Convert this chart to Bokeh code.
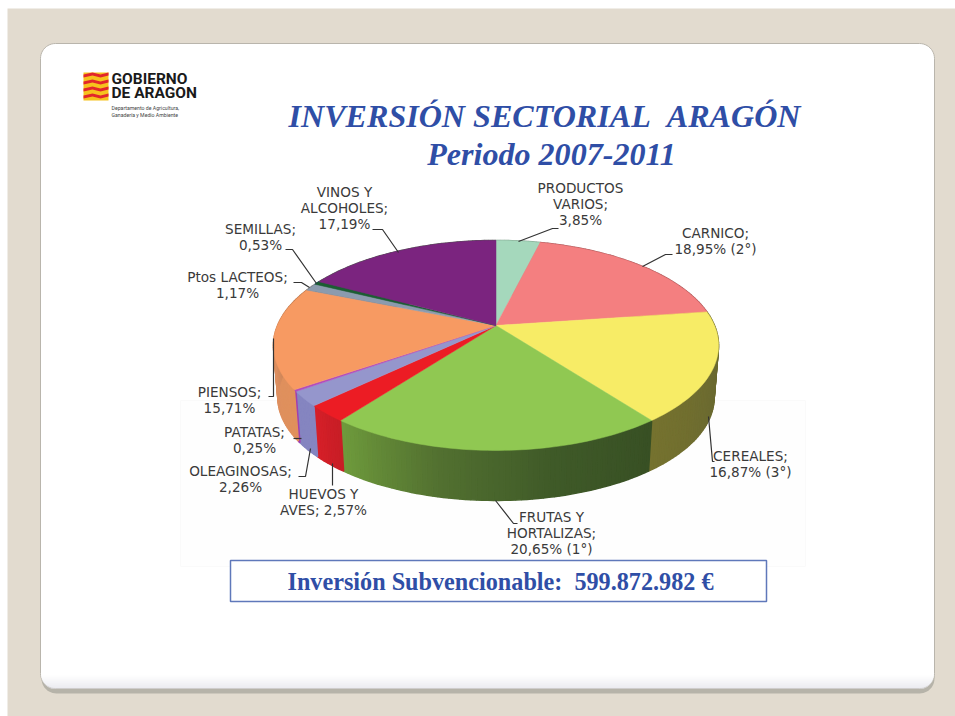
import math
from bokeh.plotting import figure
from bokeh.embed import file_html
from bokeh.resources import INLINE
from bokeh.core.properties import value

# ---------- data ----------
sectors = ["PRODUCTOS VARIOS", "CARNICO", "CEREALES", "FRUTAS Y HORTALIZAS", "HUEVOS Y AVES",
           "OLEAGINOSAS", "PATATAS", "PIENSOS", "Ptos LACTEOS", "SEMILLAS", "VINOS Y ALCOHOLES"]
shares = [3.85, 18.95, 16.87, 20.65, 2.57, 2.26, 0.25, 15.71, 1.17, 0.53, 17.19]
label_lines = [["PRODUCTOS", "VARIOS;", "3,85%"], ["CARNICO;", "18,95% (2°)"], ["CEREALES;", "16,87% (3°)"],
               ["FRUTAS Y", "HORTALIZAS;", "20,65% (1°)"], ["HUEVOS Y", "AVES; 2,57%"], ["OLEAGINOSAS;", "2,26%"],
               ["PATATAS;", "0,25%"], ["PIENSOS;", "15,71%"], ["Ptos LACTEOS;", "1,17%"], ["SEMILLAS;", "0,53%"],
               ["VINOS Y", "ALCOHOLES;", "17,19%"]]
title_1 = "INVERSIÓN SECTORIAL\u00a0\u00a0ARAGÓN"
title_2 = "Periodo 2007-2011"
box_text = "Inversión Subvencionable:\u00a0\u00a0599.872.982 €"

# ---------- styles ----------
top_colors = ["#A5D8BC", "#F47F80", "#F7EC66", "#90C852", "#EC1C24", "#9596CC", "#B14CBE", "#F79A62", "#8B9BAE", "#1B5E32", "#7B247F"]
wall_stops = [["#7F9F8A"], ["#A85858"], ["#6B672E", "#6B6A30", "#75722F"], ["#385024", "#3F5A28", "#527030", "#6E9A3C"],
              ["#C81E26", "#D51F28"], ["#8585C0"], ["#A040B0"], ["#E0905C", "#DD8F60", "#B0724A"], ["#777777"], ["#114455"], ["#555555"]]
BLUE = "#2F4EA6"
BEIGE = "#E2DBCF"

# label layout: centre x, first line y
label_pos = [(580, 187), (715, 232), (750, 455), (551, 516), (323, 493), (240, 470), (254, 431), (229, 391), (237, 276), (260, 228), (344, 191)]
leaders = [[(558, 228), (552, 228), (518, 241)], [(672, 254), (665, 254), (642, 266)], [(714, 461), (712, 461), (708, 416)],
           [(517, 523), (513, 523), (495, 500)], [(332, 485), (332, 463)], [(298, 476), (305, 476), (310, 448)],
           [(293, 438), (301, 438)], [(268, 396), (273, 396), (273, 338)], [(293, 282), (301, 282), (309, 287)],
           [(285, 249), (292, 249), (316, 283)], [(372, 229), (382, 229), (398, 252)]]

# pie projection (perspective-tilted disc)
AX, AY, RA, RB, K = 495.5, 325, 218.5, 101.2, 0.19
DROP, SHRINK = 377.5, 0.98

def top_pt(th):
    d = 1 + K * math.cos(th)
    return AX + RA * math.sin(th) / d, AY - RB * math.cos(th) / d

def bot_pt(th):
    x, y = top_pt(th)
    return AX + SHRINK * (x - AX), DROP + SHRINK * (y - AY)

def hex2rgb(h):
    h = h.lstrip("#")
    return [int(h[i:i + 2], 16) for i in (0, 2, 4)]

def mix(stops, f):
    if len(stops) == 1:
        return stops[0]
    pos = f * (len(stops) - 1)
    i = min(int(pos), len(stops) - 2)
    t = pos - i
    a, b = hex2rgb(stops[i]), hex2rgb(stops[i + 1])
    return "#%02x%02x%02x" % tuple(round(a[j] + (b[j] - a[j]) * t) for j in range(3))

def rrect(x0, y0, x1, y1, r):
    xs, ys = [], []
    for cx, cy, a0 in [(x1 - r, y0 + r, -90), (x1 - r, y1 - r, 0), (x0 + r, y1 - r, 90), (x0 + r, y0 + r, 180)]:
        for k in range(13):
            a = math.radians(a0 + k * 7.5)
            xs.append(cx + r * math.cos(a))
            ys.append(cy + r * math.sin(a))
    return xs, ys

W, H = 955, 716
p = figure(width=W, height=H, x_range=(0, W), y_range=(H, 0), output_backend="svg", toolbar_location=None,
           min_border=0, outline_line_color=None, background_fill_color="#FFFFFF", border_fill_color="#FFFFFF")
p.axis.visible = False
p.grid.visible = False

# slide background
p.quad(left=7, right=W, top=8, bottom=H, fill_color=BEIGE, line_color=None)

# slide panel
sx, sy = rrect(41, 46, 934, 693, 15)
p.patch(sx, sy, fill_color="#B6B3A9", line_color=None)
px, py = rrect(40, 43, 934, 688, 15)
p.patch(px, py, fill_color="#FFFFFF", line_color="#B9B5AC", line_width=1)
for i in range(14):
    y = 674 + i
    inset = max(0, 15 - math.sqrt(max(0, 225 - (y - 673) ** 2)))
    c = mix(["#FFFFFF", "#E6E6EC"], i / 13)
    p.quad(left=40.5 + inset, right=933.5 - inset, top=y, bottom=y + 1, fill_color=c, line_color=None)

# faint backdrop of the pasted chart
p.quad(left=180, right=805, top=400, bottom=566, fill_color="#FEFEFE", line_color="#FAFAFA", line_width=1)

# side wall then top of the pie
cum = 0.0
wall_x, wall_y, wall_c, top_x, top_y = [], [], [], [], []
for sh, stops in zip(shares, wall_stops):
    a0 = 2 * math.pi * cum / 100
    a1 = 2 * math.pi * (cum + sh) / 100
    n = max(2, int(sh * 3))
    xs, ys = [AX], [AY]
    for k in range(n + 1):
        th = a0 + (a1 - a0) * k / n
        x, y = top_pt(th)
        xs.append(x); ys.append(y)
        if k < n:
            th2 = a0 + (a1 - a0) * (k + 1) / n
            q = [top_pt(th), top_pt(th2), bot_pt(th2), bot_pt(th)]
            wall_x.append([t[0] for t in q]); wall_y.append([t[1] for t in q])
            wall_c.append(mix(stops, k / max(1, n - 1)))
    top_x.append(xs); top_y.append(ys)
    cum += sh
p.patches(wall_x, wall_y, fill_color=wall_c, line_color=wall_c, line_width=1.5)
p.patches(top_x, top_y, fill_color=top_colors, line_color=top_colors, line_width=0.5)

# leaders and labels
for pts in leaders:
    p.line([t[0] for t in pts], [t[1] for t in pts], line_color="#333333", line_width=1.2)
for lines, (cx, y0) in zip(label_lines, label_pos):
    for i, s in enumerate(lines):
        p.text([cx], [y0 + i * 16.4], text=[s], text_font=value("DejaVu Sans"), text_font_size="13.6px",
               text_color="#3A3A3A", text_align="center", text_baseline="middle")

# titles
p.text([544], [115], text=[title_1], text_font=value("Liberation Serif"), text_font_size="32.1px", text_font_style="bold italic",
       text_color=BLUE, text_align="center", text_baseline="middle")
p.text([551], [153], text=[title_2], text_font=value("Liberation Serif"), text_font_size="32.1px", text_font_style="bold italic",
       text_color=BLUE, text_align="center", text_baseline="middle")

# total box
p.quad(left=230, right=766, top=560, bottom=601, fill_color="#FFFFFF", line_color="#5F78BA", line_width=1.5)
p.text([500], [581], text=[box_text], text_font=value("Liberation Serif"), text_font_size="24.2px", text_font_style="bold",
       text_color=BLUE, text_align="center", text_baseline="middle")

# logo
p.quad(left=83, right=108, top=72, bottom=100, fill_color="#F6C21C", line_color=None)
for dy in (72, 79, 86, 93):
    p.patch([83, 92, 100, 108, 108, 100, 92, 83], [dy + 2, dy, dy + 2, dy, dy + 3, dy + 5, dy + 3, dy + 5],
            fill_color="#E2262B", line_color=None)
p.text([111], [78], text=["GOBIERNO"], text_font=value("Roboto"), text_font_size="15.5px", text_font_style="bold",
       text_color="#1A1A1A", text_baseline="middle")
p.text([111], [92.5], text=["DE ARAGON"], text_font=value("Roboto"), text_font_size="15.5px", text_font_style="bold",
       text_color="#1A1A1A", text_baseline="middle")
p.text([111], [107], text=["Departamento de Agricultura,"], text_font=value("Roboto"), text_font_size="5.2px",
       text_color="#444444", text_baseline="middle")
p.text([111], [114], text=["Ganadería y Medio Ambiente"], text_font=value("Roboto"), text_font_size="5.2px",
       text_color="#444444", text_baseline="middle")

open("out.html", "w").write(file_html(p, INLINE))
